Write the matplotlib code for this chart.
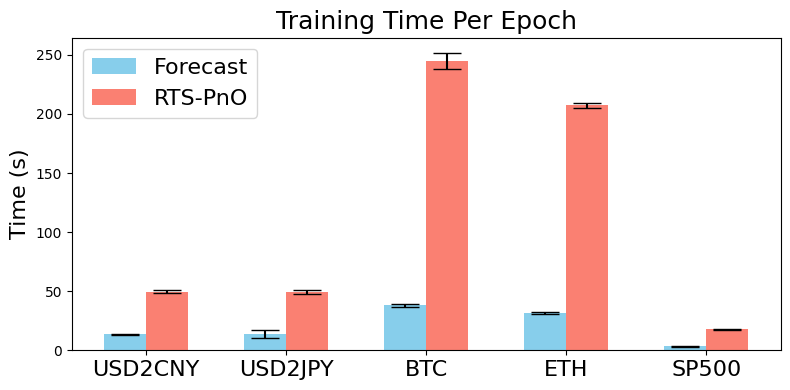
import matplotlib
matplotlib.use("Agg")
import matplotlib.pyplot as plt
import numpy as np

categories = ["USD2CNY", "USD2JPY", "BTC", "ETH", "SP500"]
forecast_mean = [13.6, 13.8, 38.0, 31.3, 3.4]
forecast_err = [0.5, 3.0, 1.2, 1.0, 0.3]
rts_mean = [49.7, 49.5, 245.0, 207.2, 17.8]
rts_err = [1.0, 1.6, 6.9, 2.4, 0.4]

fig, ax = plt.subplots(figsize=(7.9, 3.9), dpi=100)
x = np.arange(len(categories))
w = 0.3
ax.bar(x - w / 2, forecast_mean, w, yerr=forecast_err, capsize=10,
       color="skyblue", label="Forecast")
ax.bar(x + w / 2, rts_mean, w, yerr=rts_err, capsize=10,
       color="salmon", label="RTS-PnO")
ax.set_xticks(x)
ax.set_xticklabels(categories, fontsize=16)
ax.set_ylabel("Time (s)", fontsize=16)
ax.set_title("Training Time Per Epoch", fontsize=18)
ax.legend(fontsize=16, loc="upper left")
fig.subplots_adjust(left=0.0911, right=0.988, top=0.9033, bottom=0.1018)
fig.savefig("out.png")
